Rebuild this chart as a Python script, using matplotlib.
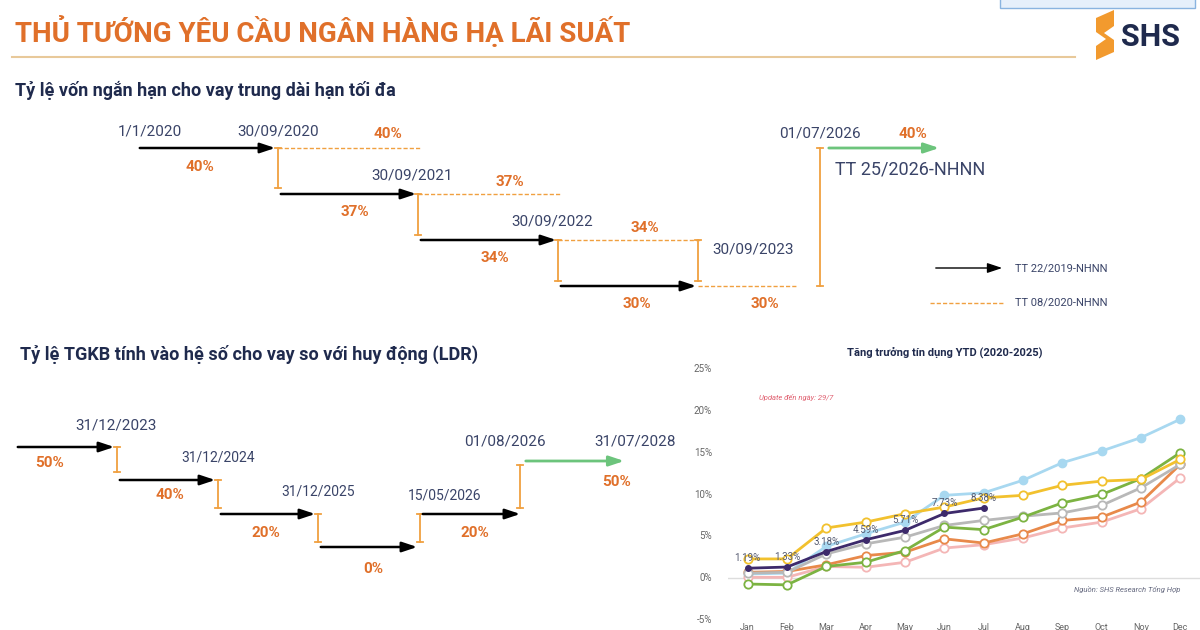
import matplotlib

matplotlib.use("Agg")
import matplotlib.pyplot as plt
from matplotlib.patches import Polygon, Rectangle

plt.rcParams["font.family"] = ["Roboto", "DejaVu Sans"]

ORANGE = "#e0702a"
NAVY = "#1f2a4d"
DATE_C = "#3a4468"
DASH_C = "#f0a040"
GREEN = "#6cc47c"

# Credit growth YTD (%), months Jan..Dec
MONTHS = ["Jan", "Feb", "Mar", "Apr", "May", "Jun", "Jul", "Aug", "Sep", "Oct", "Nov", "Dec"]
GROWTH_BLUE = [0.5, 0.6, 3.8, 5.3, 6.7, 9.9, 10.2, 11.7, 13.8, 15.2, 16.8, 19.0]
GROWTH_YELLOW = [2.3, 2.3, 6.0, 6.7, 7.7, 8.5, 9.6, 9.9, 11.1, 11.6, 11.8, 14.2]
GROWTH_GREEN = [-0.7, -0.8, 1.4, 1.9, 3.3, 6.1, 5.8, 7.3, 9.0, 10.0, 11.9, 15.0]
GROWTH_GREY = [0.6, 0.7, 2.9, 4.1, 4.9, 6.3, 6.9, 7.4, 7.8, 8.7, 10.8, 13.6]
GROWTH_ORANGE = [0.7, 0.8, 1.6, 2.7, 3.1, 4.7, 4.2, 5.3, 6.9, 7.3, 9.1, 13.6]
GROWTH_PINK = [0.1, 0.1, 1.4, 1.3, 1.9, 3.6, 4.0, 4.8, 6.0, 6.7, 8.3, 12.0]
GROWTH_2025 = [1.19, 1.33, 3.18, 4.59, 5.71, 7.73, 8.38]
Y_TICKS = [-5, 0, 5, 10, 15, 20, 25]

fig = plt.figure(figsize=(12, 6.3), dpi=100)
bg = fig.add_axes([0, 0, 1, 1])
bg.set_xlim(0, 1200)
bg.set_ylim(630, 0)
bg.axis("off")


def arrow(x0, y, x1, color="black", lw=1.8):
    bg.annotate("", xy=(x1, y), xytext=(x0, y),
                arrowprops=dict(arrowstyle="-|>,head_length=0.9,head_width=0.3", color=color, lw=lw))


def vbar(x, y0, y1):
    bg.plot([x, x], [y0, y1], color=DASH_C, lw=1.3)
    bg.plot([x - 3, x + 3], [y0, y0], color=DASH_C, lw=1.3)
    bg.plot([x - 3, x + 3], [y1, y1], color=DASH_C, lw=1.3)


def dash(x0, x1, y):
    bg.plot([x0, x1], [y, y], color=DASH_C, lw=1, ls=(0, (3, 1.5)))


def txt(x, y, s, color=DATE_C, size=11, weight="normal", ha="center", **kw):
    bg.text(x, y, s, color=color, fontsize=size, fontweight=weight, ha=ha, va="center", **kw)


# header
txt(15, 32, "THỦ TƯỚNG YÊU CẦU NGÂN HÀNG HẠ LÃI SUẤT", ORANGE, 20, "bold", "left")
bg.plot([12, 1075], [57, 57], color="#e8c99a", lw=1.5)
bg.add_patch(Rectangle((1000, -2), 195, 10, fc="#e6f0fb", ec="#8ab4e0", lw=1))
bg.add_patch(Polygon([(1096, 18), (1114, 10), (1114, 26), (1104, 33), (1114, 40), (1114, 52),
                      (1096, 60), (1096, 46), (1106, 39), (1096, 32)], fc="#f29a2e"))
txt(1150, 37, "SHS", NAVY, 22, "bold")

# section 1
txt(15, 90, "Tỷ lệ vốn ngắn hạn cho vay trung dài hạn tối đa", NAVY, 13, "bold", "left")
for x0, y in [(137, 148), (278, 194), (418, 240), (558, 286)]:
    arrow(x0, y, x0 + 141)
for x0, x1, y in [(278, 420, 148), (418, 560, 194), (558, 700, 240), (698, 798, 286)]:
    dash(x0, x1, y)
vbar(278, 148, 188)
vbar(418, 194, 235)
vbar(558, 240, 281)
vbar(698, 240, 281)
vbar(820, 148, 286)
arrow(826, 148, 942, GREEN, 2)
for x, y, s in [(150, 131, "1/1/2020"), (278, 131, "30/09/2020"), (412, 175, "30/09/2021"),
                (552, 221, "30/09/2022"), (820, 134, "01/07/2026")]:
    txt(x, y, s)
txt(712, 250, "30/09/2023", ha="left")
for x, y, s in [(388, 134, "40%"), (200, 167, "40%"), (510, 182, "37%"), (355, 212, "37%"),
                (645, 228, "34%"), (495, 258, "34%"), (637, 304, "30%"), (765, 304, "30%"),
                (913, 134, "40%")]:
    txt(x, y, s, ORANGE, 11, "bold")
txt(835, 170, "TT 25/2026-NHNN", DATE_C, 13, ha="left")
arrow(933, 268, 1005, lw=1)
txt(1015, 268, "TT 22/2019-NHNN", DATE_C, 8, ha="left")
dash(930, 1005, 303)
txt(1015, 303, "TT 08/2020-NHNN", DATE_C, 8, ha="left")

# section 2
txt(20, 354, "Tỷ lệ TGKB tính vào hệ số cho vay so với huy động (LDR)", NAVY, 13, "bold", "left")
for x0, x1, y in [(15, 117, 447), (117, 218, 480), (218, 318, 514), (318, 420, 547), (420, 523, 514)]:
    arrow(x0, y, x1)
arrow(523, 461, 627, GREEN, 2)
vbar(117, 447, 472)
vbar(218, 480, 508)
vbar(318, 514, 542)
vbar(420, 514, 542)
vbar(520, 465, 508)
for x, y, s in [(116, 425, "31/12/2023"), (218, 458, "31/12/2024"), (318, 492, "31/12/2025"),
                (445, 495, "15/05/2026"), (505, 441, "01/08/2026"), (635, 441, "31/07/2028")]:
    txt(x, y, s, size=10 if y > 450 else 11)
for x, y, s in [(50, 463, "50%"), (170, 495, "40%"), (266, 533, "20%"), (373, 569, "0%"),
                (475, 533, "20%"), (617, 482, "50%")]:
    txt(x, y, s, ORANGE, 11, "bold")

# credit growth chart
ax = fig.add_axes([728 / 1200, 10 / 630, 472 / 1200, 251 / 630])
ax.set_xlim(-0.5, 11.5)
ax.set_ylim(-5, 25)
ax.axis("off")
ax.axhline(0, color="#dddddd", lw=1, zorder=0)
x = list(range(12))
hollow = [(GROWTH_PINK, "#f4b6b6"), (GROWTH_ORANGE, "#e8894a"), (GROWTH_GREY, "#b8b8b8"),
          (GROWTH_GREEN, "#7cb342"), (GROWTH_YELLOW, "#f2c12e")]
ax.plot(x, GROWTH_BLUE, color="#a8d8f0", lw=2, marker="o", ms=6)
for vals, c in hollow:
    ax.plot(x, vals, color=c, lw=2, marker="o", ms=6, mfc="white", mec=c, mew=1.3)
ax.plot(x[:len(GROWTH_2025)], GROWTH_2025, color="#3d2a6b", lw=2, marker="o", ms=4)
for i, v in enumerate(GROWTH_2025):
    ax.text(i, v + 0.6, f"{v:.2f}%", color="#555a70", fontsize=7, ha="center", va="bottom")
for t in Y_TICKS:
    fig.text(712 / 1200, (10 + (t + 5) / 30 * 251) / 630, f"{t}%", fontsize=7,
             color="#666666", ha="right", va="center")
for i, m in enumerate(MONTHS):
    ax.text(i, -5.9, m, fontsize=6.5, color="#666666", ha="center", va="center", clip_on=False)
ax.text(0.3, 21.3, "Update đến ngày: 29/7", color="#e06070", fontsize=5.5, style="italic")
ax.text(11, -1.4, "Nguồn: SHS Research Tổng Hợp", color="#666a80", fontsize=5.5,
        style="italic", ha="right", va="center")
txt(945, 352, "Tăng trưởng tín dụng YTD (2020-2025)", NAVY, 8, "bold")

fig.savefig("out.png", dpi=100)
